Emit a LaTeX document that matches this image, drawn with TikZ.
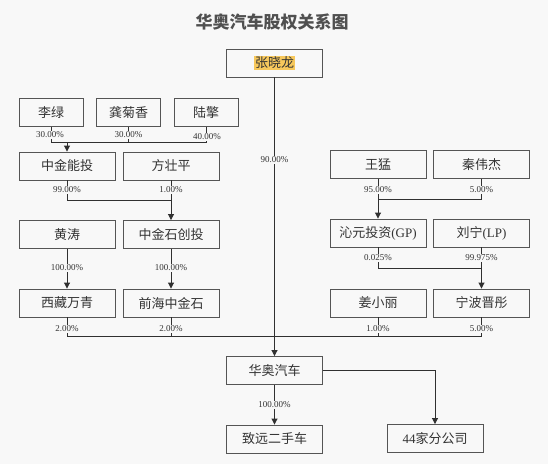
\documentclass[tikz,border=0pt]{standalone}
\usepackage{fontspec}
\setmainfont{Liberation Serif}
\newfontfamily\cjk{Noto Sans CJK SC}
\usetikzlibrary{arrows.meta}
\definecolor{bg}{HTML}{F8F8F8}
\definecolor{ln}{HTML}{303030}
\definecolor{bx}{HTML}{555555}
\definecolor{tx}{HTML}{333333}
\definecolor{hl}{HTML}{F7C85C}
\definecolor{ttl}{HTML}{505050}
\begin{document}
\begin{tikzpicture}[x=1pt,y=-1pt,
  box/.style={draw=bx, line width=0.9pt, minimum width=96pt, minimum height=28pt, inner sep=0pt,
    text=tx, font=\fontsize{13}{14}\selectfont\cjk},
  sbox/.style={box, minimum width=64pt},
  pct/.style={font=\fontsize{9}{9}\selectfont, text=tx, fill=bg, inner sep=0.6pt},
  conn/.style={draw=ln, line width=0.9pt},
  arr/.style={conn, -{Triangle[length=6pt,width=6pt]}}]
\fill[bg] (0,0) rectangle (548,464);
\useasboundingbox (0,0) rectangle (548,464);
% title
\node[text=ttl, font=\fontsize{17}{17}\selectfont\cjk\bfseries] (title) at (272,21.5) {华奥汽车股权关系图};
% nodes
\node[box] (zxl) at (274.5,63) {{\fboxsep=0.8pt\colorbox{hl}{张晓龙}}};
\node[sbox] (li) at (51,112.5) {李绿};
\node[sbox] (gjx) at (128.5,112.5) {龚菊香};
\node[sbox] (lq) at (206,112.5) {陆擎};
\node[box] (zjnt) at (67,166) {中金能投};
\node[box] (fzp) at (171,166) {方壮平};
\node[box] (ht) at (67,234.5) {黄涛};
\node[box] (zjsct) at (171,234.5) {中金石创投};
\node[box] (xzwq) at (67,303) {西藏万青};
\node[box] (qhzjs) at (171,303) {前海中金石};
\node[box] (wm) at (378,164.5) {王猛};
\node[box] (qwj) at (481.5,164.5) {秦伟杰};
\node[box] (qytz) at (378,233) {沁元投资{\rmfamily(GP)}};
\node[box] (ln) at (481.5,233) {刘宁{\rmfamily(LP)}};
\node[box] (jxl) at (378,303) {姜小丽};
\node[box] (nbjt) at (481.5,303) {宁波晋彤};
\node[box] (hao) at (274.5,370.5) {华奥汽车};
\node[box] (zy) at (274.5,439) {致远二手车};
\node[box] (fgs) at (435,438.5) {{\rmfamily 44}家分公司};
% junction levels
\coordinate (h1) at (0,142);
\coordinate (h2) at (0,200);
\coordinate (h3) at (0,199);
\coordinate (h4) at (0,268);
\coordinate (hb) at (0,336);
% connectors top-left
\draw[conn] (li.south) -- (li.south |- h1) -- (lq.south |- h1) -- (lq.south);
\draw[conn] (gjx.south) -- (gjx.south |- h1);
\draw[arr] (zjnt.north |- h1) -- (zjnt.north);
\draw[conn] (zjnt.south) -- (zjnt.south |- h2) -- (fzp.south |- h2) -- (fzp.south);
\draw[arr] (zjsct.north |- h2) -- (zjsct.north);
\draw[arr] (ht.south) -- (xzwq.north);
\draw[arr] (zjsct.south) -- (qhzjs.north);
% right
\draw[conn] (wm.south) -- (wm.south |- h3) -- (qwj.south |- h3) -- (qwj.south);
\draw[arr] (qytz.north |- h3) -- (qytz.north);
\draw[conn] (qytz.south) -- (qytz.south |- h4) -- (ln.south |- h4) -- (ln.south);
\draw[arr] (nbjt.north |- h4) -- (nbjt.north);
% bottom collector
\draw[conn] (xzwq.south) -- (xzwq.south |- hb) -- (nbjt.south |- hb) -- (nbjt.south);
\draw[conn] (qhzjs.south) -- (qhzjs.south |- hb);
\draw[conn] (jxl.south) -- (jxl.south |- hb);
\draw[arr] (zxl.south) -- (hao.north);
\draw[arr] (hao.south) -- (zy.north);
\draw[arr] (hao.east) -- (hao.east -| fgs.north) -- (fgs.north);
% labels
\node[pct] (p1) at (50,135) {30.00\%};
\node[pct] (p2) at (128.5,135) {30.00\%};
\node[pct] (p3) at (207,137) {40.00\%};
\node[pct] (p4) at (67,190) {99.00\%};
\node[pct] (p5) at (171,190) {1.00\%};
\node[pct] (p6) at (67,268) {100.00\%};
\node[pct] (p7) at (171,268) {100.00\%};
\node[pct] (p8) at (67,329) {2.00\%};
\node[pct] (p9) at (171,329) {2.00\%};
\node[pct] (p10) at (378,190) {95.00\%};
\node[pct] (p11) at (481.5,190) {5.00\%};
\node[pct] (p12) at (378,258) {0.025\%};
\node[pct] (p13) at (481.5,258) {99.975\%};
\node[pct] (p14) at (378,329) {1.00\%};
\node[pct] (p15) at (481.5,329) {5.00\%};
\node[pct] (p16) at (274.5,160) {90.00\%};
\node[pct] (p17) at (274.5,405) {100.00\%};
\end{tikzpicture}
\end{document}
